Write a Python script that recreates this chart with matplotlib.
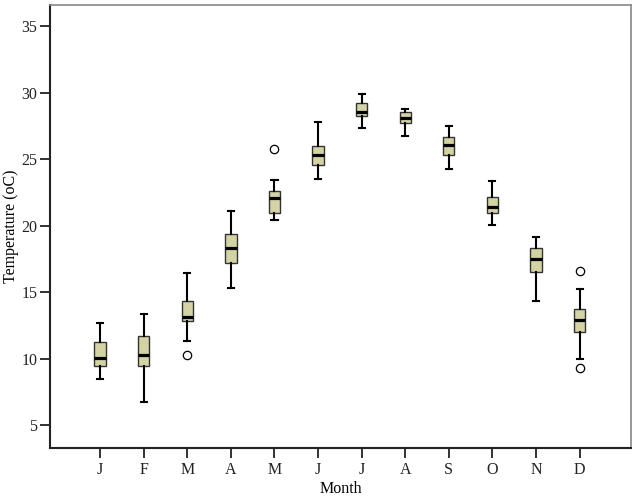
import matplotlib
matplotlib.use("Agg")
from matplotlib import pyplot as plt

months = ["J", "F", "M", "A", "M", "J", "J", "A", "S", "O", "N", "D"]
whisker_low = [8.47, 6.77, 11.38, 15.36, 20.45, 23.55, 27.37, 26.74, 24.26, 20.05, 14.36, 9.98]
q1 = [9.45, 9.45, 12.86, 17.17, 20.95, 24.56, 28.27, 27.74, 25.34, 20.98, 16.54, 12.05]
medians = [10.08, 10.28, 13.18, 18.35, 22.1, 25.36, 28.57, 28.07, 26.06, 21.45, 17.5, 12.93]
q3 = [11.28, 11.75, 14.36, 19.42, 22.65, 25.99, 29.2, 28.57, 26.67, 22.16, 18.35, 13.74]
whisker_high = [12.68, 13.38, 16.44, 21.15, 23.48, 27.8, 29.9, 28.77, 27.47, 23.36, 19.15, 15.24]
outliers = [[], [], [10.28], [], [25.77], [], [], [], [], [], [], [16.57, 9.35]]

plt.rcParams['font.family'] = ['Liberation Serif', 'DejaVu Serif']

stats = []
for i in range(len(months)):
    stats.append({
        "whislo": whisker_low[i], "q1": q1[i], "med": medians[i],
        "q3": q3[i], "whishi": whisker_high[i], "fliers": outliers[i],
    })

fig = plt.figure(figsize=(6.38, 5.0), dpi=100)
ax = fig.add_axes([0.0784, 0.104, 0.9106, 0.886])

positions = list(range(1, len(months) + 1))
ax.bxp(stats, positions=positions, widths=0.26, capwidths=0.14,
       patch_artist=True, showfliers=True,
       boxprops=dict(facecolor="#d4d3a3", edgecolor="#333333", linewidth=1.0),
       medianprops=dict(color="black", linewidth=2.3),
       whiskerprops=dict(color="black", linewidth=1.5),
       capprops=dict(color="black", linewidth=1.5),
       flierprops=dict(marker="o", markerfacecolor="white", markeredgecolor="black",
                       markersize=6, markeredgewidth=0.9))

ax.set_xlim(-0.15, 13.18)
ax.set_ylim(3.3, 36.6)
ax.set_yticks([5, 10, 15, 20, 25, 30, 35])
ax.set_xticks(positions)
ax.set_xticklabels(months)

for side in ["top", "right"]:
    ax.spines[side].set_color("#888888")
    ax.spines[side].set_linewidth(1.2)
for side in ["left", "bottom"]:
    ax.spines[side].set_color("#222222")
    ax.spines[side].set_linewidth(1.5)

ax.tick_params(axis="both", direction="out", length=7, width=1.3, labelsize=11.5, colors="#222222")
ax.tick_params(axis="x", pad=3)
ax.tick_params(axis="y", pad=2)

ax.set_xlabel("Month", fontsize=11.5, labelpad=2)
ax.set_ylabel("Temperature (oC)", fontsize=11.5, labelpad=2)

fig.savefig("out.png", dpi=100)
